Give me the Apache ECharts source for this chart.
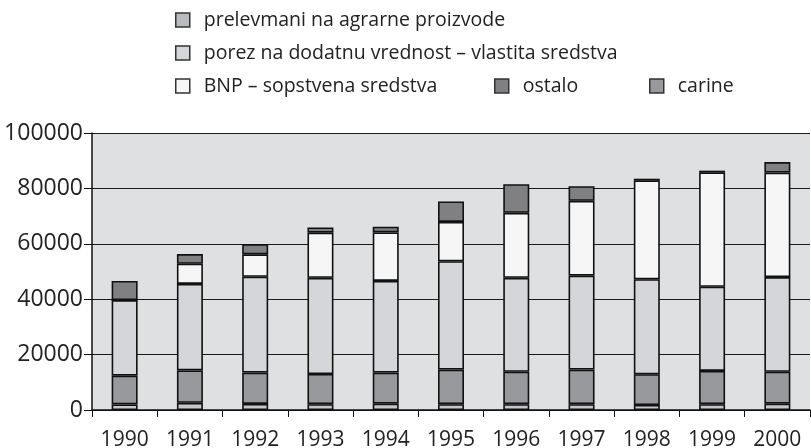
<!DOCTYPE html>
<html>
<head>
<meta charset="utf-8">
<script src="https://cdn.jsdelivr.net/npm/echarts@6/dist/echarts.min.js"></script>
<style>
html,body{margin:0;padding:0;background:#fff;}
#chart{width:811px;height:448px;}
</style>
</head>
<body>
<div id="chart"></div>
<script>
var years = ['1990','1991','1992','1993','1994','1995','1996','1997','1998','1999','2000'];
var prelevmani = [2000, 2600, 2200, 2100, 2300, 2100, 2100, 2100, 1800, 2100, 2300];
var carine     = [10400, 11700, 11300, 10900, 11200, 12500, 11700, 12500, 11100, 12000, 11500];
var porez      = [27300, 31200, 34600, 34700, 33100, 39100, 33900, 33900, 34300, 30400, 34200];
var bnp        = [0, 7300, 8100, 16300, 17500, 14200, 23500, 27000, 35700, 41300, 37700];
var ostalo     = [6900, 3500, 3700, 1900, 2100, 7400, 10300, 5300, 600, 600, 3800];
var yTicks = [0, 20000, 40000, 60000, 80000, 100000];

var names = {
  prelev: 'prelevmani na agrarne proizvode',
  porez: 'porez na dodatnu vrednost – vlastita sredstva',
  bnp: 'BNP – sopstvena sredstva',
  ostalo: 'ostalo',
  carine: 'carine'
};
var colors = {
  prelev: '#c6c7ca',
  carine: '#98999c',
  porez: '#d5d6d9',
  bnp: '#f6f6f6',
  ostalo: '#808083'
};
var legendColors = {
  prelev: '#b9babd',
  porez: '#d5d6d9',
  bnp: '#f6f6f6',
  ostalo: '#808083',
  carine: '#98999c'
};
var font = 'Open Sans';

function bar(key, data) {
  return {
    name: names[key], type: 'bar', stack: 'total', data: data,
    barWidth: 26,
    itemStyle: { color: colors[key], borderColor: '#111', borderWidth: 1.6 },
    emphasis: { disabled: true }
  };
}
function leg(key, left, top) {
  return {
    data: [{ name: names[key], itemStyle: { color: legendColors[key], borderColor: '#333', borderWidth: 1.5 } }],
    left: left, top: top, icon: 'rect', itemWidth: 14, itemHeight: 14, padding: 0,
    selectedMode: false,
    textStyle: { fontFamily: font, fontSize: 19.5, color: '#222', padding: [0, 0, 0, 9] }
  };
}

var chart = echarts.init(document.getElementById('chart'));
chart.setOption({
  animation: false,
  backgroundColor: '#ffffff',
  legend: [
    leg('prelev', 175, 10),
    leg('porez', 175, 43),
    leg('bnp', 175, 76),
    leg('ostalo', 494, 76),
    leg('carine', 649, 76)
  ],
  grid: { left: 92, right: 1, top: 133, bottom: 38, show: true, backgroundColor: '#dfe0e2', borderWidth: 0,
    containLabel: false, outerBoundsMode: 'none' },
  xAxis: {
    type: 'category', data: years, boundaryGap: true,
    axisLine: { lineStyle: { color: '#111', width: 1.5 } },
    axisTick: { show: true, length: 7, alignWithLabel: false, lineStyle: { color: '#111' } },
    axisLabel: { interval: 0, hideOverlap: false, fontFamily: font, fontSize: 21, color: '#222', margin: 20 }
  },
  yAxis: {
    type: 'value', min: 0, max: 100000, interval: 20000,
    axisLine: { show: true, lineStyle: { color: '#111', width: 1.5 } },
    axisTick: { show: true, length: 8, lineStyle: { color: '#111' } },
    axisLabel: { fontFamily: font, fontSize: 23, color: '#222', margin: 9,
      formatter: function (v) { return yTicks.indexOf(v) >= 0 ? String(v) : ''; } },
    splitLine: { show: true, lineStyle: { color: '#1a1a1a', width: 1 } }
  },
  series: [
    bar('prelev', prelevmani),
    bar('carine', carine),
    bar('porez', porez),
    bar('bnp', bnp),
    bar('ostalo', ostalo)
  ]
});
</script>
</body>
</html>
